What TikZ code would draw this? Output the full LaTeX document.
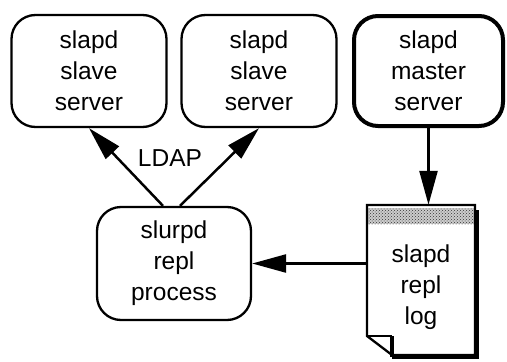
\documentclass[tikz,border=0pt]{standalone}
\usepackage{fontspec}
\setmainfont{Liberation Sans}
\usetikzlibrary{arrows.meta,patterns}
\begin{document}
\begin{tikzpicture}[x=1pt,y=-1pt,
  txt/.style={align=center, font=\fontsize{24.5}{31}\selectfont},
  box/.style={txt, draw, line width=2.3pt, rounded corners=24pt, minimum width=155pt, minimum height=112pt},
  bigbox/.style={box, line width=4pt, minimum width=149pt, minimum height=110pt},
  flow/.style={-{Triangle[length=34pt,width=18pt]}, line width=2.5pt}]
%\draw[help lines,step=10] (0,0) grid (507,362);
\useasboundingbox (0,0) rectangle (507,362);

\node [box] (slave1) at (89,71) {slapd\\slave\\server};
\node [box] (slave2) at (259,71) {slapd\\slave\\server};
\node [bigbox] (master) at (428.5,71) {slapd\\master\\server};
\node [box, minimum width=154pt, minimum height=113pt] (slurpd) at (174,263.5) {slurpd\\repl\\process};

% the log file
\fill (392,210) rectangle (479,359);
\fill [white] (367,205) -- (475,205) -- (475,355) -- (392,355) -- (367,336) -- cycle;
\fill [gray!40] (368,208) rectangle (474,224);
\fill [pattern=crosshatch dots, pattern color=black!80] (368,208) rectangle (474,224);
\draw [line width=2.3pt] (367,205) -- (475,205) -- (475,355) -- (392,355) -- (367,336) -- cycle;
\draw [line width=2.3pt] (367,336) -- (392,336);
\draw [line width=3.5pt] (392,336) -- (392,357);
\node [minimum width=108pt, minimum height=150pt,
  label={[txt, yshift=-7pt]center:slapd\\repl\\log}] (log) at (421,280) {};

\draw [flow] (master.south) -- (master.south |- log.north);
\draw [flow] (log.west |- slurpd.east) -- (slurpd.east);
\draw [flow] ([xshift=-11pt]slurpd.north) -- (slave1.south);
\draw [flow] ([xshift=6pt]slurpd.north) -- (slave2.south);
\node [txt] (ldap) at (170,158) {LDAP};
\end{tikzpicture}
\end{document}
